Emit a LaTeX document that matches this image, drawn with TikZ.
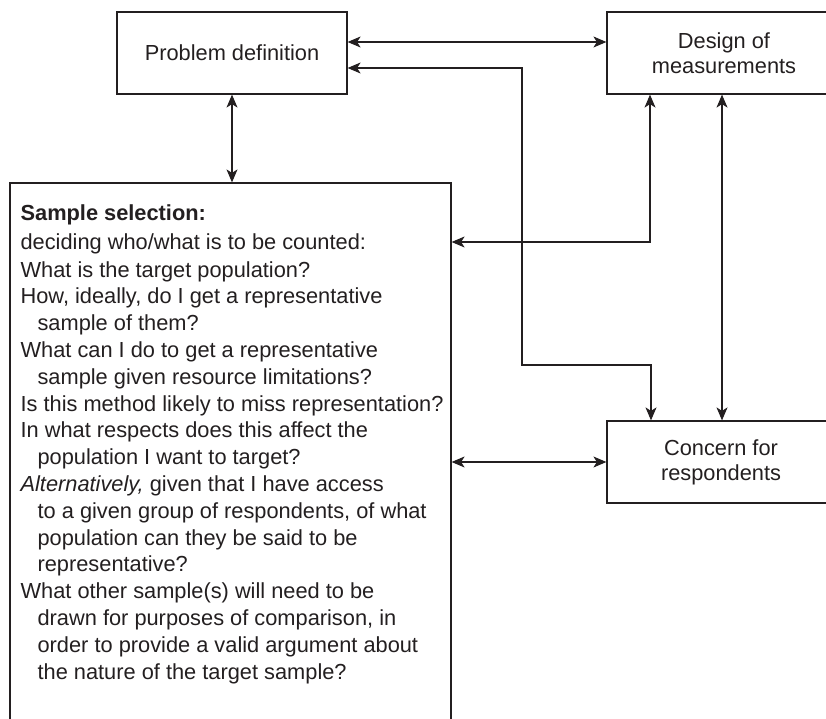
\documentclass[tikz,border=0pt]{standalone}
\usepackage{fontspec}
\setmainfont{Liberation Sans}
\usetikzlibrary{arrows.meta}
\definecolor{ink}{RGB}{35,31,32}
\tikzset{
  box/.style={draw=ink, line width=1.2pt, minimum width=#1, minimum height=82pt,
    inner sep=0pt, align=center, text=ink},
  link/.style={draw=ink, line width=1.1pt,
    {Stealth[length=13pt,width=11pt,inset=3.5pt]}-{Stealth[length=13pt,width=11pt,inset=3.5pt]}},
}
\newcommand{\cont}{\hspace*{17pt}}
\begin{document}
\begin{tikzpicture}[x=1pt,y=-1pt,font=\fontsize{21.8}{25}\selectfont]
\useasboundingbox (0,0) rectangle (826,719);
\clip (0,0) rectangle (826,719);

% the four boxes
\node[box=230pt] (pd) at (232,53) {Problem definition};
\node[box=234pt] (dm) at (724,53) {Design of\\measurements};
\node[box=228pt] (cr) at (721,462) {Concern for\\respondents};
\node[draw=ink, line width=1.2pt, minimum width=441pt, minimum height=562pt,
  inner sep=0pt] (ss) at (230.5,464) {};

\node[anchor=north west, inner sep=0pt, align=left, text=ink,
  font=\fontsize{21.8}{26.8}\selectfont] (sstext) at ([xshift=11pt,yshift=-22pt]ss.north west)
{\textbf{Sample selection:}\\[2pt]
deciding who/what is to be counted:\\[1pt]
What is the target population?\\
How, ideally, do I get a representative\\
\cont sample of them?\\
What can I do to get a representative\\
\cont sample given resource limitations?\\
Is this method likely to miss representation?\\
In what respects does this affect the\\
\cont population I want to target?\\
\textit{Alternatively,} given that I have access\\
\cont to a given group of respondents, of what\\
\cont population can they be said to be\\
\cont representative?\\
What other sample(s) will need to be\\
\cont drawn for purposes of comparison, in\\
\cont order to provide a valid argument about\\
\cont the nature of the target sample?};

% connectors
\coordinate (turn) at (522,365);
\draw[link] ([yshift=11pt]pd.east) -- ([yshift=11pt]pd.east -| dm.west);
\draw[link] ([yshift=-15pt]pd.east) -| (turn) -| ([xshift=-70pt]cr.north);
\draw[link] (pd.south) -- (pd.south |- ss.north);
\draw[link] ([xshift=-74pt]dm.south) |- ([yshift=222pt]ss.east);
\draw[link] ([xshift=-2pt]dm.south) -- ([xshift=-2pt]dm.south |- cr.north);
\draw[link] (cr.west -| ss.east) -- (cr.west);

\end{tikzpicture}
\end{document}
